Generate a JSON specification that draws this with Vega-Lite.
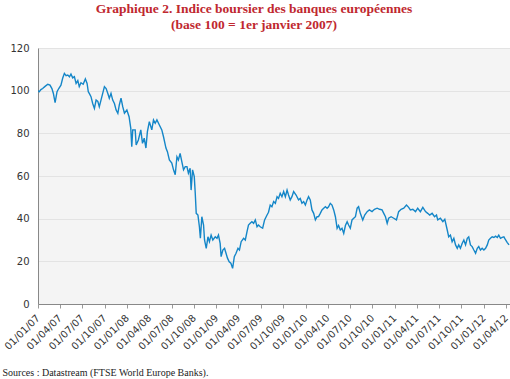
{
  "$schema": "https://vega.github.io/schema/vega-lite/v6.json",
  "autosize": "none",
  "width": 472,
  "height": 256,
  "padding": {"left": 38, "top": 48, "right": 0, "bottom": 75},
  "background": "#ffffff",
  "config": {"view": {"fill": "#f4f4f4", "stroke": null}},
  "title": {
    "text": ["Graphique 2. Indice boursier des banques européennes", "(base 100 = 1er janvier 2007)"],
    "font": "Liberation Serif",
    "fontSize": 13.5,
    "fontWeight": "bold",
    "color": "#c0282f",
    "lineHeight": 16,
    "anchor": "middle",
    "dx": -20,
    "offset": 12
  },
  "data": {"values": [
    {"d":"2007-01-01","v":100},{"d":"2007-01-06","v":99.5},{"d":"2007-01-13","v":100.5},{"d":"2007-01-20","v":101},{"d":"2007-01-30","v":102},{"d":"2007-02-10","v":103},{"d":"2007-02-19","v":102.6},{"d":"2007-02-27","v":101},{"d":"2007-03-05","v":98.7},{"d":"2007-03-12","v":94.4},{"d":"2007-03-16","v":97},{"d":"2007-03-20","v":99.5},{"d":"2007-03-27","v":101},{"d":"2007-04-05","v":102.6},{"d":"2007-04-12","v":105.8},{"d":"2007-04-19","v":108.1},{"d":"2007-04-26","v":107},{"d":"2007-05-03","v":107.3},{"d":"2007-05-10","v":106.5},{"d":"2007-05-16","v":107.8},{"d":"2007-05-23","v":106},{"d":"2007-05-30","v":106.6},{"d":"2007-06-06","v":103.4},{"d":"2007-06-13","v":104.7},{"d":"2007-06-19","v":101.9},{"d":"2007-06-26","v":103.7},{"d":"2007-07-05","v":103},{"d":"2007-07-14","v":105.5},{"d":"2007-07-21","v":103.4},{"d":"2007-07-26","v":99.5},{"d":"2007-07-30","v":98.7},{"d":"2007-08-06","v":97.2},{"d":"2007-08-13","v":94},{"d":"2007-08-20","v":91.7},{"d":"2007-08-27","v":95.6},{"d":"2007-09-03","v":95},{"d":"2007-09-09","v":92.5},{"d":"2007-09-16","v":95.6},{"d":"2007-09-23","v":98.7},{"d":"2007-09-30","v":101.9},{"d":"2007-10-07","v":101},{"d":"2007-10-14","v":98.7},{"d":"2007-10-20","v":96.4},{"d":"2007-10-27","v":98.7},{"d":"2007-11-03","v":95.6},{"d":"2007-11-10","v":94},{"d":"2007-11-17","v":90.9},{"d":"2007-11-24","v":89.4},{"d":"2007-11-30","v":93.3},{"d":"2007-12-07","v":96.5},{"d":"2007-12-14","v":92.5},{"d":"2007-12-21","v":89.4},{"d":"2007-12-31","v":90.9},
    {"d":"2008-01-09","v":87.8},{"d":"2008-01-16","v":82.3},{"d":"2008-01-20","v":73.7},{"d":"2008-01-24","v":81.6},{"d":"2008-02-03","v":81.6},{"d":"2008-02-07","v":74.5},{"d":"2008-02-16","v":76.9},{"d":"2008-02-26","v":81.6},{"d":"2008-03-04","v":75.3},{"d":"2008-03-11","v":77.7},{"d":"2008-03-18","v":73.1},{"d":"2008-03-24","v":80.8},{"d":"2008-04-01","v":85.5},{"d":"2008-04-11","v":81.6},{"d":"2008-04-18","v":86.3},{"d":"2008-04-25","v":84.7},{"d":"2008-05-02","v":86.3},{"d":"2008-05-12","v":83.9},{"d":"2008-05-22","v":81.6},{"d":"2008-05-29","v":78.4},{"d":"2008-06-08","v":73.1},{"d":"2008-06-14","v":71.4},{"d":"2008-06-22","v":67.5},{"d":"2008-07-02","v":66.1},{"d":"2008-07-09","v":62.9},{"d":"2008-07-16","v":60.6},{"d":"2008-07-23","v":69},{"d":"2008-07-29","v":67.5},{"d":"2008-08-05","v":70.6},{"d":"2008-08-12","v":66.7},{"d":"2008-08-19","v":62.9},{"d":"2008-08-26","v":64.4},{"d":"2008-09-02","v":64.4},{"d":"2008-09-08","v":61.3},{"d":"2008-09-15","v":63.6},{"d":"2008-09-19","v":53.4},{"d":"2008-09-25","v":62.9},{"d":"2008-10-02","v":59.7},{"d":"2008-10-06","v":51.9},{"d":"2008-10-10","v":42.5},{"d":"2008-10-17","v":41.7},{"d":"2008-10-23","v":36.2},{"d":"2008-10-27","v":30.8},{"d":"2008-11-02","v":40.9},{"d":"2008-11-09","v":37},{"d":"2008-11-13","v":30},{"d":"2008-11-20","v":26.1},{"d":"2008-11-27","v":31.5},{"d":"2008-12-03","v":29.2},{"d":"2008-12-10","v":32.3},{"d":"2008-12-17","v":30},{"d":"2008-12-27","v":31.5},
    {"d":"2009-01-03","v":30.8},{"d":"2009-01-09","v":32.3},{"d":"2009-01-16","v":28.4},{"d":"2009-01-20","v":22.2},{"d":"2009-01-27","v":25.3},{"d":"2009-02-03","v":26.1},{"d":"2009-02-09","v":23.8},{"d":"2009-02-15","v":21.5},{"d":"2009-02-22","v":19.8},{"d":"2009-03-01","v":19.1},{"d":"2009-03-08","v":16.7},{"d":"2009-03-15","v":22.2},{"d":"2009-03-22","v":23.8},{"d":"2009-03-30","v":26.1},{"d":"2009-04-05","v":25.3},{"d":"2009-04-12","v":29.2},{"d":"2009-04-22","v":30.8},{"d":"2009-04-29","v":30},{"d":"2009-05-06","v":33.9},{"d":"2009-05-12","v":37},{"d":"2009-05-19","v":37.8},{"d":"2009-05-26","v":38.6},{"d":"2009-06-02","v":37.8},{"d":"2009-06-09","v":39.4},{"d":"2009-06-16","v":36.2},{"d":"2009-06-22","v":37},{"d":"2009-06-29","v":36.2},{"d":"2009-07-09","v":35.5},{"d":"2009-07-17","v":39.4},{"d":"2009-07-27","v":41.7},{"d":"2009-08-02","v":43},{"d":"2009-08-09","v":46.4},{"d":"2009-08-16","v":45.6},{"d":"2009-08-23","v":48},{"d":"2009-08-30","v":47.2},{"d":"2009-09-06","v":50.3},{"d":"2009-09-12","v":49.5},{"d":"2009-09-19","v":51.9},{"d":"2009-09-26","v":50.3},{"d":"2009-10-03","v":52.7},{"d":"2009-10-10","v":50.3},{"d":"2009-10-17","v":53.4},{"d":"2009-10-23","v":51.1},{"d":"2009-10-30","v":48.8},{"d":"2009-11-06","v":50.3},{"d":"2009-11-13","v":52.7},{"d":"2009-11-23","v":51.1},{"d":"2009-12-03","v":48.8},{"d":"2009-12-10","v":49.5},{"d":"2009-12-17","v":47.2},{"d":"2009-12-24","v":48},{"d":"2009-12-31","v":46.4},
    {"d":"2010-01-07","v":48.8},{"d":"2010-01-13","v":50.3},{"d":"2010-01-20","v":48.8},{"d":"2010-01-27","v":44.1},{"d":"2010-02-03","v":42.5},{"d":"2010-02-10","v":39.4},{"d":"2010-02-17","v":40.9},{"d":"2010-02-23","v":41},{"d":"2010-03-02","v":42.5},{"d":"2010-03-09","v":44.1},{"d":"2010-03-16","v":44.9},{"d":"2010-03-23","v":45.6},{"d":"2010-03-30","v":44.9},{"d":"2010-04-05","v":45.6},{"d":"2010-04-12","v":47.2},{"d":"2010-04-19","v":46.4},{"d":"2010-04-26","v":44.1},{"d":"2010-05-03","v":40.9},{"d":"2010-05-10","v":35.5},{"d":"2010-05-16","v":36.8},{"d":"2010-05-23","v":34.7},{"d":"2010-05-30","v":35.5},{"d":"2010-06-06","v":33.1},{"d":"2010-06-13","v":36.8},{"d":"2010-06-20","v":38.6},{"d":"2010-06-26","v":37},{"d":"2010-07-03","v":35.5},{"d":"2010-07-10","v":39.4},{"d":"2010-07-17","v":40.2},{"d":"2010-07-24","v":40.9},{"d":"2010-07-31","v":44.9},{"d":"2010-08-06","v":45.6},{"d":"2010-08-13","v":42.5},{"d":"2010-08-23","v":39.4},{"d":"2010-08-31","v":41.7},{"d":"2010-09-10","v":43.3},{"d":"2010-09-19","v":44.1},{"d":"2010-09-30","v":43.3},{"d":"2010-10-10","v":44.4},{"d":"2010-10-21","v":44.9},{"d":"2010-10-31","v":44.4},{"d":"2010-11-10","v":44.1},{"d":"2010-11-17","v":42.5},{"d":"2010-11-24","v":40.9},{"d":"2010-12-01","v":37.8},{"d":"2010-12-07","v":40.2},{"d":"2010-12-17","v":40.9},{"d":"2010-12-28","v":40.2},
    {"d":"2011-01-08","v":39.4},{"d":"2011-01-17","v":43.3},{"d":"2011-01-27","v":44.4},{"d":"2011-02-07","v":44.9},{"d":"2011-02-18","v":46.4},{"d":"2011-02-27","v":45.3},{"d":"2011-03-06","v":44.1},{"d":"2011-03-16","v":44.4},{"d":"2011-03-27","v":43.3},{"d":"2011-04-05","v":44.9},{"d":"2011-04-16","v":43.3},{"d":"2011-04-26","v":45.3},{"d":"2011-05-07","v":43.3},{"d":"2011-05-16","v":42.5},{"d":"2011-05-24","v":41.7},{"d":"2011-06-03","v":42.5},{"d":"2011-06-13","v":40.9},{"d":"2011-06-21","v":41.7},{"d":"2011-06-26","v":39.4},{"d":"2011-07-07","v":40.2},{"d":"2011-07-17","v":38.6},{"d":"2011-07-25","v":39.7},{"d":"2011-08-04","v":34.7},{"d":"2011-08-10","v":31.5},{"d":"2011-08-17","v":32.3},{"d":"2011-08-24","v":29.2},{"d":"2011-08-31","v":30.8},{"d":"2011-09-07","v":27.7},{"d":"2011-09-14","v":26.1},{"d":"2011-09-20","v":27.7},{"d":"2011-09-27","v":26.1},{"d":"2011-10-04","v":28.4},{"d":"2011-10-11","v":30},{"d":"2011-10-18","v":27.7},{"d":"2011-10-25","v":30.8},{"d":"2011-10-31","v":31.5},{"d":"2011-11-07","v":27.7},{"d":"2011-11-14","v":26.9},{"d":"2011-11-21","v":25.3},{"d":"2011-11-28","v":23.8},{"d":"2011-12-05","v":26.1},{"d":"2011-12-11","v":26.9},{"d":"2011-12-18","v":25.3},{"d":"2011-12-25","v":26.1},
    {"d":"2012-01-01","v":25.3},{"d":"2012-01-08","v":26.1},{"d":"2012-01-15","v":27.7},{"d":"2012-01-21","v":30},{"d":"2012-01-28","v":30.8},{"d":"2012-02-04","v":31.5},{"d":"2012-02-11","v":31.2},{"d":"2012-02-18","v":31.8},{"d":"2012-02-25","v":31.2},{"d":"2012-03-02","v":32.3},{"d":"2012-03-09","v":30.8},{"d":"2012-03-16","v":31.2},{"d":"2012-03-23","v":31.5},{"d":"2012-03-30","v":30},{"d":"2012-04-06","v":28.8},{"d":"2012-04-13","v":27.7}
  ]},
  "mark": {"type": "line", "color": "#1486c8", "strokeWidth": 1.4, "clip": true},
  "encoding": {
    "x": {
      "field": "d", "type": "temporal",
      "scale": {"domain": [{"year": 2007, "month": 1, "date": 1}, {"year": 2012, "month": 4, "date": 17}]},
      "axis": {
        "values": [
          {"year":2007,"month":1,"date":1},{"year":2007,"month":4,"date":1},{"year":2007,"month":7,"date":1},{"year":2007,"month":10,"date":1},
          {"year":2008,"month":1,"date":1},{"year":2008,"month":4,"date":1},{"year":2008,"month":7,"date":1},{"year":2008,"month":10,"date":1},
          {"year":2009,"month":1,"date":1},{"year":2009,"month":4,"date":1},{"year":2009,"month":7,"date":1},{"year":2009,"month":10,"date":1},
          {"year":2010,"month":1,"date":1},{"year":2010,"month":4,"date":1},{"year":2010,"month":7,"date":1},{"year":2010,"month":10,"date":1},
          {"year":2011,"month":1,"date":1},{"year":2011,"month":4,"date":1},{"year":2011,"month":7,"date":1},{"year":2011,"month":10,"date":1},
          {"year":2012,"month":1,"date":1},{"year":2012,"month":4,"date":1}
        ],
        "format": "%d/%m/%y",
        "labelAngle": -45,
        "labelAlign": "right",
        "labelBaseline": "middle",
        "labelFont": "DejaVu Sans",
        "labelFontSize": 10,
        "labelColor": "#333333",
        "labelPadding": 8,
        "labelOverlap": false,
        "labelBound": false,
        "labelFlush": false,
        "grid": false,
        "domainColor": "#888888",
        "tickColor": "#999999",
        "tickSize": 4,
        "title": "Sources : Datastream (FTSE World Europe Banks).",
        "titleFont": "Liberation Serif",
        "titleFontSize": 10,
        "titleFontWeight": "normal",
        "titleColor": "#222222",
        "titleAnchor": "start",
        "titleAlign": "left",
        "titleBaseline": "alphabetic",
        "titleX": -36,
        "titleY": 71
      }
    },
    "y": {
      "field": "v", "type": "quantitative",
      "scale": {"domain": [0, 120], "nice": false},
      "axis": {
        "values": [0, 20, 40, 60, 80, 100, 120],
        "title": null,
        "labelFont": "DejaVu Sans",
        "labelFontSize": 10,
        "labelColor": "#333333",
        "labelPadding": 9,
        "ticks": false,
        "domainColor": "#888888",
        "gridColor": "#e3e3e3",
        "gridWidth": 1
      }
    }
  }
}
